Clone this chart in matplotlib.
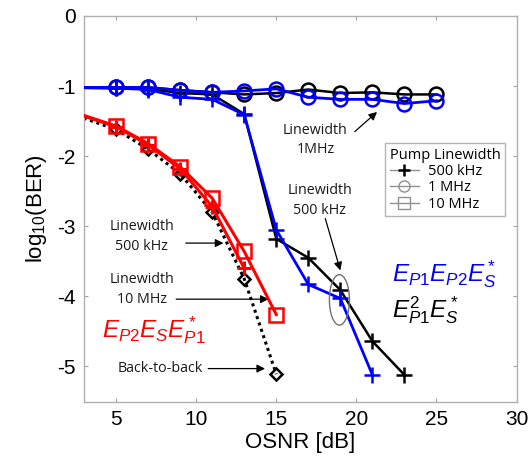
import matplotlib
matplotlib.use("Agg")
import matplotlib.pyplot as plt
from matplotlib.patches import Ellipse
from matplotlib.lines import Line2D

plt.rcParams['font.family'] = ['Liberation Sans', 'DejaVu Sans']
plt.rcParams['axes.unicode_minus'] = False
plt.rcParams['mathtext.fontset'] = 'custom'
plt.rcParams['mathtext.it'] = 'Liberation Sans:italic'
plt.rcParams['mathtext.rm'] = 'Liberation Sans'
plt.rcParams['mathtext.sf'] = 'Liberation Sans'

# ---- data ----
osnr_top = [1, 5, 7, 9, 11, 13, 15, 17, 19, 21, 23, 25]
ber_blue_1mhz = [-1.02, -1.02, -1.02, -1.06, -1.09, -1.07, -1.04, -1.16, -1.19, -1.19, -1.25, -1.21]
ber_black_1mhz = [-1.02, -1.02, -1.02, -1.06, -1.09, -1.12, -1.10, -1.05, -1.10, -1.09, -1.12, -1.12]

osnr_blue_500k = [1, 5, 7, 9, 11, 13, 15, 17, 19, 21]
ber_blue_500k = [-1.02, -1.03, -1.05, -1.16, -1.19, -1.41, -3.05, -3.83, -4.03, -5.12]
osnr_black_500k = [1, 5, 7, 9, 11, 13, 15, 17, 19, 21, 23]
ber_black_500k = [-1.02, -1.03, -1.04, -1.10, -1.12, -1.40, -3.18, -3.45, -3.91, -4.64, -5.12]

osnr_red_10m = [1, 5, 7, 9, 11, 13, 15]
ber_red_10m = [-1.27, -1.57, -1.82, -2.15, -2.60, -3.36, -4.26]
osnr_red_500k = [1, 5, 7, 9, 11, 13]
ber_red_500k = [-1.28, -1.58, -1.84, -2.18, -2.72, -3.60]
osnr_b2b = [1, 5, 7, 9, 11, 13, 15]
ber_b2b = [-1.30, -1.62, -1.90, -2.25, -2.80, -3.75, -5.11]

legend_title = "Pump Linewidth"
legend_labels = ["500 kHz", "1 MHz", "10 MHz"]

fig = plt.figure(figsize=(5.32, 4.68), dpi=100)
ax = fig.add_axes([0.158, 0.142, 0.813, 0.824])

BLUE = '#0000ff'
RED = '#ff0000'

# back-to-back (dotted black, diamonds)
ax.plot(osnr_b2b, ber_b2b, color='black', ls=(0, (1, 1.2)), lw=2.2,
        marker='D', ms=6.5, mfc='none', mec='black', mew=1.8, zorder=2)
# red 500 kHz (plus)
ax.plot(osnr_red_500k, ber_red_500k, color=RED, lw=2.2, marker='+', ms=10,
        mew=2.2, zorder=3)
# red 10 MHz (squares)
ax.plot(osnr_red_10m, ber_red_10m, color=RED, lw=2.2, marker='s', ms=10,
        mfc='none', mec=RED, mew=1.8, zorder=4)

# top curves
ax.plot(osnr_top, ber_black_1mhz, color='black', lw=1.8, marker='o', ms=10,
        mfc='none', mec='black', mew=1.8, zorder=3)
ax.plot(osnr_black_500k, ber_black_500k, color='black', lw=1.8, marker='+', ms=11,
        mew=1.8, zorder=3)
ax.plot(osnr_top, ber_blue_1mhz, color=BLUE, lw=2.0, marker='o', ms=10,
        mfc='none', mec=BLUE, mew=1.8, zorder=4)
ax.plot(osnr_blue_500k, ber_blue_500k, color=BLUE, lw=2.0, marker='+', ms=11,
        mew=1.8, zorder=4)

ax.set_xlim(3, 30)
ax.set_ylim(-5.5, 0)
ax.set_xticks([5, 10, 15, 20, 25, 30])
ax.set_yticks([0, -1, -2, -3, -4, -5])
ax.tick_params(direction='in', length=3, width=0.8, color='#a0a0a0',
               labelsize=15, top=True, right=True, pad=6)
for s in ax.spines.values():
    s.set_color('#b0b0b0')
    s.set_linewidth(1.0)
ax.set_xlabel('OSNR [dB]', fontsize=16, labelpad=2)
ax.set_ylabel(r'log$_{10}$(BER)', fontsize=16, labelpad=6)

# ellipse
ax.add_patch(Ellipse((18.94, -4.05), 1.25, 0.72, fill=False, ec='#707070', lw=1.0, zorder=5))

afont = dict(family=['Open Sans', 'DejaVu Sans'], fontsize=10.3, color='#1a1a1a')
aprops = dict(arrowstyle='-|>', color='black', lw=0.9, mutation_scale=12, shrinkA=0, shrinkB=0)

ax.text(17.44, -1.77, "Linewidth\n1MHz", ha='center', va='center', linespacing=1.45, **afont)
ax.annotate('', xy=(21.29, -1.37), xytext=(19.9, -1.65), arrowprops=aprops)

ax.text(17.7, -2.63, "Linewidth\n500 kHz", ha='center', va='center', linespacing=1.45, **afont)
ax.annotate('', xy=(19.0, -3.63), xytext=(18.06, -2.89), arrowprops=aprops)

ax.text(6.6, -3.15, "Linewidth\n500 kHz", ha='center', va='center', linespacing=1.45, **afont)
ax.annotate('', xy=(11.7, -3.24), xytext=(9.35, -3.24), arrowprops=aprops)

ax.text(6.6, -3.9, "Linewidth\n10 MHz", ha='center', va='center', linespacing=1.45, **afont)
ax.annotate('', xy=(14.52, -4.04), xytext=(8.75, -4.04), arrowprops=aprops)

ax.text(7.75, -5.03, "Back-to-back", ha='center', va='center', **afont)
ax.annotate('', xy=(14.3, -5.03), xytext=(10.75, -5.03), arrowprops=aprops)

ax.text(22.25, -3.785, r'$E_{P1}E_{P2}E_S^*$', color=BLUE, fontsize=17.5, ha='left', va='baseline')
ax.text(22.25, -4.30, r'$E_{P1}^2E_S^*$', color='black', fontsize=17.5, ha='left', va='baseline')
ax.text(4.15, -4.59, r'$E_{P2}E_SE_{P1}^*$', color=RED, fontsize=17.5, ha='left', va='baseline')

handles = [
    Line2D([], [], color='#909090', lw=1, marker='+', ms=9, mec='black', mew=1.8),
    Line2D([], [], color='#909090', lw=1, marker='o', ms=8, mfc='none', mec='#909090', mew=1),
    Line2D([], [], color='#909090', lw=1, marker='s', ms=8, mfc='none', mec='#909090', mew=1),
]
leg = fig.legend(handles, legend_labels, title=legend_title, loc='upper right',
                 bbox_to_anchor=(0.949, 0.694), frameon=True, fancybox=False,
                 prop={'family': ['Open Sans', 'DejaVu Sans'], 'size': 10.5},
                 title_fontproperties={'family': ['Open Sans', 'DejaVu Sans'], 'size': 10.5},
                 handlelength=2.0, handletextpad=0.6, labelspacing=0.1,
                 borderpad=0.3, borderaxespad=0)
leg.get_frame().set_edgecolor('#a0a0a0')
leg.get_frame().set_linewidth(1.0)
leg._legend_box.align = "left"

fig.savefig('out.png', dpi=100)
